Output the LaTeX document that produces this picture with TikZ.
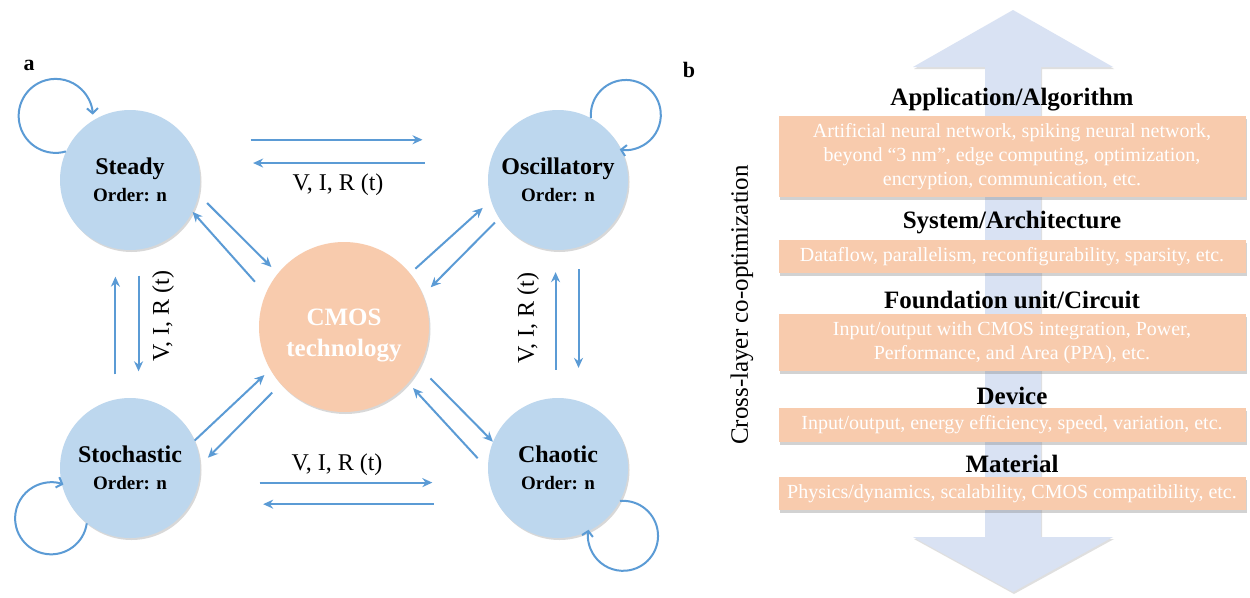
\documentclass[tikz,border=0pt]{standalone}
\usepackage{fontspec}
\setmainfont{Liberation Serif}
\usepackage{tikz}
\usetikzlibrary{arrows.meta,shadows}

\definecolor{stateblue}{RGB}{189,215,238}
\definecolor{coreorange}{RGB}{248,203,173}
\definecolor{linkblue}{RGB}{91,155,213}
\definecolor{stackblue}{RGB}{217,226,243}

\begin{document}
\begin{tikzpicture}[
  x=1pt,y=-1pt,
  state/.style={circle,fill=stateblue,minimum size=140pt,inner sep=0pt,align=center,
                font=\bfseries\fontsize{24}{27}\selectfont,
                drop shadow={shadow xshift=1.5pt,shadow yshift=-2pt,opacity=0.3}},
  core/.style={circle,fill=coreorange,minimum size=170pt,inner sep=0pt,align=center,
               text=white,font=\bfseries\fontsize{25}{31}\selectfont,
               drop shadow={shadow xshift=1.5pt,shadow yshift=-2pt,opacity=0.3}},
  flow/.style={draw=linkblue,line width=2pt,-{Stealth[length=10pt,width=9pt]}},
  selfloop/.style={draw=linkblue,line width=2pt,-{Straight Barb[length=5pt,width=11pt]}},
  vir/.style={font=\fontsize{24}{28}\selectfont},
  layer/.style={fill=coreorange,text=white,minimum width=467pt,inner sep=0pt,align=center,
                font=\fontsize{20}{24}\selectfont,
                drop shadow={shadow xshift=1.5pt,shadow yshift=-2.5pt,opacity=0.35}},
  head/.style={font=\bfseries\fontsize{25}{29}\selectfont},
  tag/.style={font=\bfseries\fontsize{22}{26}\selectfont}
]
\useasboundingbox (0,0) rectangle (1250,597);
\fill[white] (0,0) rectangle (1250,597);

\node[tag] (taga) at (29,65) {a};
\node[tag] (tagb) at (689,70) {b};

\node[state] (steady) at (130,180) {Steady\\{\fontsize{19}{24}\selectfont Order: n}};
\node[state] (osc) at (558,180) {Oscillatory\\{\fontsize{19}{24}\selectfont Order: n}};
\node[state] (stoch) at (130,468) {Stochastic\\{\fontsize{19}{24}\selectfont Order: n}};
\node[state] (chaotic) at (558,468) {Chaotic\\{\fontsize{19}{24}\selectfont Order: n}};
\node[core] (cmos) at (344,327) {\rule{0pt}{33pt}CMOS\\technology};

\draw[flow,shorten <=63pt,shorten >=78pt] (steady.35) -- (osc.145);
\draw[flow,shorten <=65pt,shorten >=55pt] (osc.166) -- (steady.14);
\draw[flow,shorten <=61pt,shorten >=57pt] (stoch.-12) -- (chaotic.192);
\draw[flow,shorten <=64pt,shorten >=73pt] (chaotic.211) -- (stoch.-31);
\draw[flow,shorten <=25pt,shorten >=28pt] (stoch.102) -- (steady.258);
\draw[flow,shorten <=26pt,shorten >=27pt] (steady.277) -- (stoch.83);
\draw[flow,shorten <=28pt,shorten >=22pt] (chaotic.92) -- (osc.268);
\draw[flow,shorten <=22pt,shorten >=33pt] (osc.287) -- (chaotic.73);

\draw[flow,shorten <=12pt,shorten >=9pt] (steady.-12) -- (cmos.141);
\draw[flow,shorten <=16pt] (cmos.157) -- (steady.-27);
\draw[flow,shorten <=7pt,shorten >=11pt] (cmos.39) -- (osc.197);
\draw[flow,shorten <=6pt,shorten >=11pt] (osc.213) -- (cmos.22);
\draw[flow,shorten >=8pt] (stoch.23) -- (cmos.210);
\draw[flow,shorten <=12pt,shorten >=11pt] (cmos.222) -- (stoch.2);
\draw[flow,shorten <=16pt] (cmos.-28) -- (chaotic.158);
\draw[flow,shorten <=15pt,shorten >=7pt] (chaotic.181) -- (cmos.-41);

\draw[selfloop] (steady.156) arc[start angle=74,end angle=358,radius=37];
\draw[selfloop] (osc.62) arc[start angle=175,end angle=460,radius=35];
\draw[selfloop] (stoch.232) arc[start angle=8,end angle=290,radius=36];
\draw[selfloop] (chaotic.-28) arc[start angle=265,end angle=550,radius=35];

\node[vir] (virtop) at (338,185) {V, I, R (t)};
\node[vir] (virbot) at (337,465) {V, I, R (t)};
\node[vir,rotate=90] (virleft) at (163,316) {V, I, R (t)};
\node[vir,rotate=90] (virright) at (528,318) {V, I, R (t)};

\fill[stackblue,drop shadow={shadow xshift=1pt,shadow yshift=-2pt,opacity=0.25}]
  (1013,10) -- (1113,67) -- (1041,67) -- (1041,537) -- (1113,537) -- (1013,592)
  -- (913,537) -- (985,537) -- (985,67) -- (913,67) -- cycle;

\node[rotate=90,font=\fontsize{25}{29}\selectfont] (xlayer) at (742,305) {Cross-layer co-optimization};

\node[head] (apphead) at (1012,100) {Application/Algorithm};
\node[layer,minimum height=81pt] (appbox) at (1012,156.5)
  {Artificial neural network, spiking neural network,\\beyond “3 nm”, edge computing, optimization,\\encryption, communication, etc.};
\node[head] (syshead) at (1012,223) {System/Architecture};
\node[layer,minimum height=33pt] (sysbox) at (1012,256.5)
  {Dataflow, parallelism, reconfigurability, sparsity, etc.};
\node[head] (cirhead) at (1012,300) {Foundation unit/Circuit};
\node[layer,minimum height=57pt] (cirbox) at (1012,342.5)
  {Input/output with CMOS integration, Power,\\Performance, and Area (PPA), etc.};
\node[head] (devhead) at (1012,396) {Device};
\node[layer,minimum height=34pt] (devbox) at (1012,425)
  {Input/output, energy efficiency, speed, variation, etc.};
\node[head] (mathead) at (1012,464) {Material};
\node[layer,minimum height=33pt] (matbox) at (1012,493.5)
  {Physics/dynamics, scalability, CMOS compatibility, etc.};
\end{tikzpicture}
\end{document}
